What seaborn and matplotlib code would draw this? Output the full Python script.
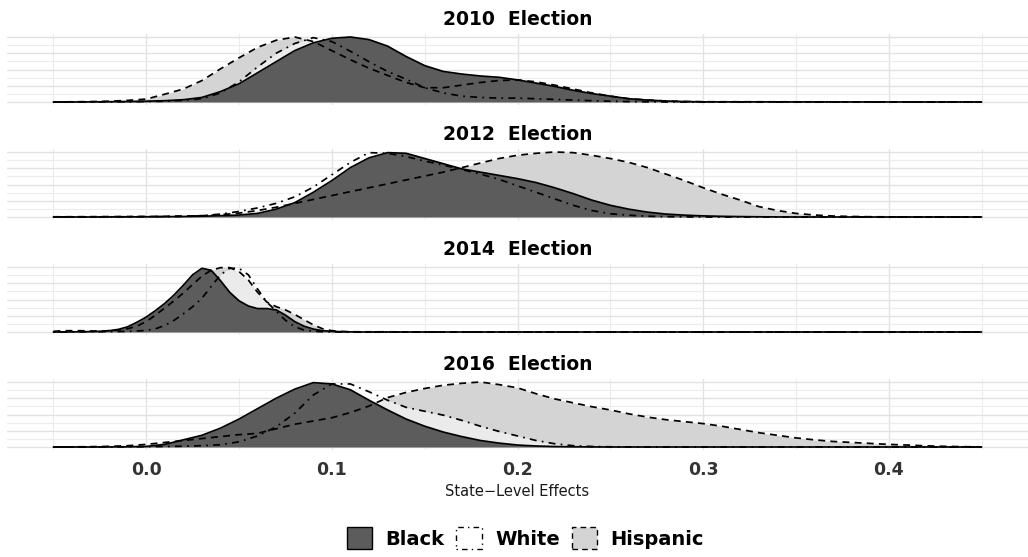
import numpy as np
import pandas as pd
import matplotlib
matplotlib.use("Agg")
import matplotlib.pyplot as plt
import seaborn as sns
from matplotlib.patches import Patch

# scaled state-level effect densities (max = 1)
years = ["2010", "2012", "2014", "2016"]
groups = ["Black", "White", "Hispanic"]

x2010 = [-0.05, -0.04, -0.03, -0.02, -0.01, 0.00, 0.01, 0.02, 0.03, 0.04, 0.05, 0.06,
         0.07, 0.08, 0.09, 0.10, 0.11, 0.12, 0.13, 0.14, 0.15, 0.16, 0.17, 0.18,
         0.19, 0.20, 0.21, 0.22, 0.23, 0.24, 0.25, 0.26, 0.27, 0.28, 0.29, 0.30, 0.45]
black2010 = [0, 0, 0.002, 0.004, 0.007, 0.012, 0.02, 0.035, 0.07, 0.16, 0.28, 0.45,
             0.62, 0.79, 0.91, 0.98, 1.0, 0.96, 0.86, 0.70, 0.56, 0.47, 0.43, 0.40,
             0.38, 0.34, 0.29, 0.24, 0.18, 0.13, 0.09, 0.05, 0.03, 0.015, 0.006, 0.002, 0]
white2010 = [0, 0, 0.001, 0.002, 0.004, 0.007, 0.012, 0.025, 0.05, 0.14, 0.31, 0.54,
             0.75, 0.90, 0.99, 0.93, 0.78, 0.62, 0.47, 0.35, 0.22, 0.14, 0.09, 0.07,
             0.06, 0.06, 0.05, 0.04, 0.03, 0.02, 0.012, 0.006, 0.003, 0.001, 0, 0, 0]
hisp2010 = [0, 0.003, 0.006, 0.012, 0.025, 0.045, 0.12, 0.20, 0.33, 0.51, 0.68, 0.84,
            0.95, 1.0, 0.93, 0.79, 0.65, 0.52, 0.41, 0.30, 0.22, 0.22, 0.26, 0.30,
            0.33, 0.34, 0.31, 0.26, 0.20, 0.14, 0.09, 0.05, 0.03, 0.015, 0.008, 0.004, 0]

x2012 = [-0.05, -0.04, -0.03, -0.02, -0.01, 0.00, 0.01, 0.02, 0.03, 0.04, 0.05, 0.06,
         0.07, 0.08, 0.09, 0.10, 0.11, 0.12, 0.13, 0.14, 0.15, 0.16, 0.17, 0.18,
         0.19, 0.20, 0.21, 0.22, 0.23, 0.24, 0.25, 0.26, 0.27, 0.28, 0.29, 0.30,
         0.31, 0.32, 0.33, 0.34, 0.35, 0.36, 0.37, 0.38, 0.39, 0.40, 0.45]
black2012 = [0, 0, 0, 0.001, 0.002, 0.003, 0.005, 0.008, 0.012, 0.02, 0.03, 0.055,
             0.12, 0.22, 0.38, 0.56, 0.76, 0.91, 0.99, 0.98, 0.90, 0.82, 0.74, 0.69,
             0.64, 0.59, 0.53, 0.45, 0.36, 0.26, 0.18, 0.12, 0.075, 0.045, 0.028, 0.017,
             0.01, 0.006, 0.003, 0.001, 0, 0, 0, 0, 0, 0, 0]
white2012 = [0, 0.001, 0.002, 0.003, 0.004, 0.005, 0.007, 0.01, 0.02, 0.045, 0.085, 0.14,
             0.21, 0.31, 0.46, 0.65, 0.84, 0.99, 0.98, 0.93, 0.86, 0.80, 0.73, 0.66,
             0.58, 0.48, 0.38, 0.28, 0.18, 0.10, 0.05, 0.028, 0.012, 0.005, 0.002, 0,
             0, 0, 0, 0, 0, 0, 0, 0, 0, 0, 0]
hisp2012 = [0.003, 0.004, 0.005, 0.006, 0.007, 0.008, 0.01, 0.014, 0.02, 0.035, 0.06, 0.10,
            0.15, 0.21, 0.27, 0.33, 0.39, 0.45, 0.51, 0.57, 0.63, 0.69, 0.76, 0.83,
            0.90, 0.95, 0.98, 1.0, 0.99, 0.95, 0.90, 0.84, 0.76, 0.66, 0.56, 0.45,
            0.35, 0.26, 0.16, 0.10, 0.055, 0.03, 0.015, 0.008, 0.004, 0.002, 0]

x2014 = [-0.05, -0.045, -0.04, -0.035, -0.03, -0.025, -0.02, -0.015, -0.01, -0.005,
         0.00, 0.005, 0.01, 0.015, 0.02, 0.025, 0.03, 0.035, 0.04, 0.045, 0.05, 0.055,
         0.06, 0.065, 0.07, 0.075, 0.08, 0.085, 0.09, 0.095, 0.10, 0.105, 0.11, 0.115,
         0.12, 0.15, 0.45]
black2014 = [0, 0, 0.002, 0.004, 0.006, 0.01, 0.02, 0.04, 0.08, 0.15,
             0.23, 0.33, 0.44, 0.57, 0.72, 0.88, 0.98, 0.95, 0.79, 0.61, 0.48, 0.40,
             0.36, 0.36, 0.34, 0.26, 0.16, 0.09, 0.045, 0.02, 0.01, 0.005, 0.002, 0,
             0, 0, 0]
white2014 = [0, 0, 0.001, 0.002, 0.003, 0.004, 0.005, 0.007, 0.01, 0.015,
             0.025, 0.05, 0.10, 0.18, 0.28, 0.39, 0.52, 0.70, 0.88, 0.98, 0.98, 0.88,
             0.66, 0.46, 0.32, 0.18, 0.08, 0.03, 0.012, 0.005, 0.002, 0, 0, 0,
             0, 0, 0]
hisp2014 = [0.01, 0.02, 0.02, 0.02, 0.016, 0.015, 0.02, 0.03, 0.05, 0.09,
            0.16, 0.26, 0.37, 0.48, 0.60, 0.73, 0.86, 0.95, 0.99, 0.99, 0.93, 0.80,
            0.61, 0.46, 0.39, 0.34, 0.27, 0.19, 0.11, 0.05, 0.02, 0.008, 0.004, 0.003,
            0.003, 0.002, 0]

x2016 = [-0.05, -0.04, -0.03, -0.02, -0.01, 0.00, 0.01, 0.02, 0.03, 0.04, 0.05, 0.06,
         0.07, 0.08, 0.09, 0.10, 0.11, 0.12, 0.13, 0.14, 0.15, 0.16, 0.17, 0.18,
         0.19, 0.20, 0.21, 0.22, 0.23, 0.24, 0.25, 0.26, 0.27, 0.28, 0.29, 0.30,
         0.31, 0.32, 0.33, 0.34, 0.35, 0.36, 0.37, 0.38, 0.39, 0.40, 0.41, 0.42,
         0.43, 0.44, 0.45]
black2016 = [0, 0, 0, 0.001, 0.003, 0.008, 0.04, 0.11, 0.18, 0.29, 0.43, 0.59,
             0.75, 0.89, 0.99, 0.97, 0.88, 0.72, 0.57, 0.43, 0.32, 0.23, 0.16, 0.10,
             0.06, 0.03, 0.015, 0.007, 0.003, 0.001, 0, 0, 0, 0, 0, 0,
             0, 0, 0, 0, 0, 0, 0, 0, 0, 0, 0, 0,
             0, 0, 0]
white2016 = [0, 0, 0.001, 0.002, 0.003, 0.005, 0.008, 0.012, 0.02, 0.035, 0.08, 0.17,
             0.31, 0.52, 0.80, 0.97, 0.97, 0.85, 0.72, 0.61, 0.55, 0.49, 0.41, 0.32,
             0.24, 0.17, 0.10, 0.05, 0.02, 0.008, 0.003, 0.001, 0, 0, 0, 0,
             0, 0, 0, 0, 0, 0, 0, 0, 0, 0, 0, 0,
             0, 0, 0]
hisp2016 = [0, 0.002, 0.005, 0.01, 0.02, 0.04, 0.07, 0.10, 0.13, 0.16, 0.19, 0.21,
            0.28, 0.35, 0.40, 0.45, 0.53, 0.63, 0.76, 0.84, 0.90, 0.95, 0.98, 1.0,
            0.96, 0.91, 0.82, 0.74, 0.68, 0.62, 0.57, 0.51, 0.46, 0.42, 0.39, 0.36,
            0.32, 0.27, 0.22, 0.18, 0.14, 0.11, 0.085, 0.07, 0.055, 0.04, 0.03, 0.018,
            0.01, 0.005, 0.002]

curves = {
    "2010": (x2010, {"Black": black2010, "White": white2010, "Hispanic": hisp2010}),
    "2012": (x2012, {"Black": black2012, "White": white2012, "Hispanic": hisp2012}),
    "2014": (x2014, {"Black": black2014, "White": white2014, "Hispanic": hisp2014}),
    "2016": (x2016, {"Black": black2016, "White": white2016, "Hispanic": hisp2016}),
}

rows = []
for yr in years:
    xs, dens = curves[yr]
    for g in groups:
        for xv, dv in zip(xs, dens[g]):
            rows.append({"year": yr, "group": g, "x": xv, "density": dv})
df = pd.DataFrame(rows)

fillColors = {"Black": "#5c5c5c", "White": "#ffffff", "Hispanic": "#d4d4d4"}
fillAlpha = {"Black": 1.0, "White": 0.55, "Hispanic": 1.0}
dashMap = {"Black": "", "White": (1, 3, 4, 3), "Hispanic": (4, 3)}
mplStyles = {"Black": "-", "White": (0, (1, 3, 4, 3)), "Hispanic": (0, (4, 3))}

sns.set_theme(style="white")
plt.rcParams["font.family"] = ["DejaVu Sans"]

fig = plt.figure(figsize=(10.28, 5.57), dpi=100)
H = 557.0
left = 7 / 1028.0
width = 1021 / 1028.0
for i, yr in enumerate(years):
    bottomPx = 105.25 + 115 * i
    ax = fig.add_axes([left, 1 - bottomPx / H, width, 71.5 / H])
    sub = df[df["year"] == yr]
    for g in ["Hispanic", "White", "Black"]:
        d = sub[sub["group"] == g]
        ax.fill_between(d["x"], 0, d["density"], color=fillColors[g],
                        alpha=fillAlpha[g], linewidth=0, zorder=2)
    sns.lineplot(data=sub, x="x", y="density", style="group", style_order=groups,
                 dashes=dashMap, color="black", linewidth=1.25, estimator=None,
                 legend=False, ax=ax, zorder=3)
    ax.set_xlim(-0.075, 0.475)
    ax.set_ylim(-0.05, 1.05)
    ax.set_xticks([0.0, 0.1, 0.2, 0.3, 0.4])
    ax.set_xticks([-0.05, 0.05, 0.15, 0.25, 0.35, 0.45], minor=True)
    ax.set_yticks([0, 0.25, 0.5, 0.75, 1.0])
    ax.set_yticks([0.125, 0.375, 0.625, 0.875], minor=True)
    ax.grid(which="major", color="#e2e2e2", linewidth=1.0)
    ax.grid(which="minor", color="#ececec", linewidth=0.8)
    ax.set_axisbelow(True)
    for s in ax.spines.values():
        s.set_visible(False)
    ax.set_xlabel("")
    ax.set_ylabel("")
    ax.set_yticklabels([])
    ax.tick_params(which="both", length=0)
    if i < 3:
        ax.set_xticklabels([])
    else:
        ax.set_xticklabels(["0.0", "0.1", "0.2", "0.3", "0.4"], fontsize=12.5,
                           fontweight="bold", color="#333333")
        ax.tick_params(axis="x", pad=8)
    ax.set_title(f"{yr}  Election", fontsize=13.5, fontweight="bold", pad=6.5,
                 color="black")

fig.text(517.5 / 1028.0, 1 - 491 / H, "State\u2212Level Effects", ha="center",
         va="center", fontsize=10.5, color="#1a1a1a")

handles = [Patch(facecolor=fillColors[g], edgecolor="black", linestyle=mplStyles[g],
                 linewidth=1.0, label=g) for g in groups]
fig.legend(handles=handles, loc="center", bbox_to_anchor=(0.511, 1 - 538 / H), ncol=3,
           frameon=False, prop={"weight": "bold", "size": 14}, handlelength=1.3,
           handleheight=1.3, handletextpad=0.7, columnspacing=0.6,
           labelcolor="black")

fig.savefig("out.png", dpi=100)
plt.close(fig)
